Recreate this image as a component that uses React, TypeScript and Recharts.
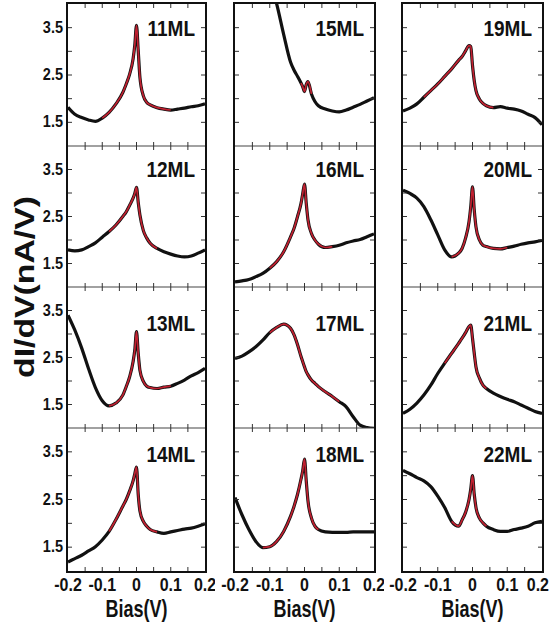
import React from 'react';
import { LineChart, Line, XAxis, YAxis } from 'recharts';

// ---------- data ----------
const BIAS = [-0.2, -0.18, -0.16, -0.14, -0.12, -0.1, -0.08, -0.06, -0.04, -0.03, -0.02, -0.01, -0.005, 0, 0.005, 0.01, 0.02, 0.03, 0.04, 0.06, 0.08, 0.1, 0.12, 0.14, 0.16, 0.18, 0.2];

const ML11 = [1.82, 1.67, 1.6, 1.55, 1.52, 1.59, 1.71, 1.89, 2.13, 2.31, 2.52, 2.84, 3.13, 3.55, 3.02, 2.45, 2.06, 1.92, 1.87, 1.81, 1.78, 1.76, 1.78, 1.8, 1.83, 1.85, 1.89];
const ML12 = [1.79, 1.77, 1.79, 1.86, 1.94, 2.06, 2.18, 2.32, 2.5, 2.6, 2.74, 2.89, 2.99, 3.12, 2.8, 2.53, 2.2, 2.04, 1.93, 1.82, 1.75, 1.7, 1.66, 1.64, 1.66, 1.72, 1.79];
const ML13 = [3.4, 3.08, 2.7, 2.26, 1.86, 1.58, 1.47, 1.53, 1.7, 1.88, 2.09, 2.41, 2.66, 3.05, 2.59, 2.23, 1.99, 1.89, 1.86, 1.84, 1.87, 1.89, 1.95, 2.02, 2.11, 2.18, 2.27];
const ML14 = [1.19, 1.26, 1.33, 1.42, 1.51, 1.65, 1.83, 2.08, 2.36, 2.5, 2.68, 2.89, 3.04, 3.18, 2.61, 2.26, 2.04, 1.94, 1.87, 1.82, 1.79, 1.82, 1.85, 1.88, 1.9, 1.94, 1.99];
const ML15 = [7.6, 7.0, 6.3, 5.7, 5.1, 4.5, 4.0, 3.36, 2.77, 2.6, 2.47, 2.33, 2.25, 2.15, 2.3, 2.36, 2.1, 1.94, 1.85, 1.78, 1.74, 1.72, 1.76, 1.82, 1.88, 1.95, 2.02];
const ML16 = [1.11, 1.13, 1.16, 1.22, 1.29, 1.4, 1.54, 1.75, 2.07, 2.25, 2.5, 2.78, 2.99, 3.19, 2.78, 2.43, 2.14, 2.0, 1.91, 1.84, 1.86, 1.89, 1.94, 1.98, 2.01, 2.07, 2.13];
const ML17 = [2.48, 2.53, 2.62, 2.73, 2.87, 3.03, 3.14, 3.21, 3.12, 2.98, 2.77, 2.52, 2.41, 2.3, 2.2, 2.13, 2.02, 1.95, 1.88, 1.77, 1.67, 1.56, 1.45, 1.24, 1.06, 1.01, 0.99];
const ML18 = [2.54, 2.18, 1.87, 1.62, 1.49, 1.51, 1.62, 1.83, 2.15, 2.36, 2.61, 2.93, 3.11, 3.35, 2.89, 2.47, 2.11, 1.94, 1.87, 1.82, 1.81, 1.81, 1.81, 1.82, 1.82, 1.82, 1.82];
const ML19 = [1.74, 1.8, 1.89, 2.03, 2.17, 2.31, 2.47, 2.63, 2.81, 2.89, 3.01, 3.12, 3.1, 2.7, 2.38, 2.17, 1.99, 1.9, 1.85, 1.81, 1.83, 1.8, 1.78, 1.74, 1.67, 1.6, 1.45];
const ML20 = [3.06, 2.99, 2.89, 2.71, 2.43, 2.11, 1.79, 1.64, 1.72, 1.82, 2.04, 2.39, 2.71, 3.13, 2.64, 2.28, 2.0, 1.89, 1.86, 1.82, 1.81, 1.84, 1.87, 1.91, 1.94, 1.96, 1.99];
const ML21 = [1.31, 1.4, 1.53, 1.7, 1.91, 2.16, 2.38, 2.59, 2.8, 2.91, 3.03, 3.16, 3.19, 2.91, 2.59, 2.3, 2.06, 1.91, 1.84, 1.74, 1.67, 1.61, 1.56, 1.49, 1.42, 1.35, 1.31];
const ML22 = [3.11, 3.04, 2.96, 2.89, 2.77, 2.57, 2.33, 2.04, 1.94, 2.07, 2.23, 2.5, 2.72, 3.0, 2.61, 2.33, 2.11, 2.01, 1.94, 1.87, 1.83, 1.83, 1.87, 1.9, 1.94, 2.01, 2.04];

// column-major order: column 0 = 11..14, column 1 = 15..18, column 2 = 19..22
const PANEL_NAMES = ['11ML', '12ML', '13ML', '14ML', '15ML', '16ML', '17ML', '18ML', '19ML', '20ML', '21ML', '22ML'];
const PANEL_VALUES = [ML11, ML12, ML13, ML14, ML15, ML16, ML17, ML18, ML19, ML20, ML21, ML22];
const FIT_RANGES = [
  [-0.1, 0.1], [-0.08, 0.06], [-0.08, 0.1], [-0.08, 0.06],
  [-0.01, 0.02], [-0.1, 0.08], [-0.1, 0.1], [-0.12, 0.04],
  [-0.14, 0.06], [-0.06, 0.1], [-0.08, 0.04], [-0.06, 0.04],
];

const X_TICKS = [-0.2, -0.15, -0.1, -0.05, 0, 0.05, 0.1, 0.15, 0.2];
const X_LABELS = [-0.2, -0.1, 0, 0.1, 0.2];
const Y_TICKS = [1, 1.5, 2, 2.5, 3, 3.5, 4];
const Y_LABELS = [1.5, 2.5, 3.5];
const X_TITLE = 'Bias(V)';
const Y_TITLE = 'dI/dV(nA/V)';

// ---------- layout ----------
const FONT = "'Liberation Sans', Arial, Helvetica, sans-serif";
const COL_LEFT = [68, 235, 403];
const COL_RIGHT = [205, 374, 542];
const ROW_TOP = [4, 146, 287, 428];
const ROW_BOTTOM = [146, 287, 428, 571];
const LABEL_BASE = [36, 177, 331, 462];
// axis strips are 1px (a 0px axis is not drawn), so the margins leave room for them
const M = { top: 10, right: 10, bottom: 59, left: 69 };

const near = (a: number, b: number) => Math.abs(a - b) < 1e-9;
const fmtX = (v: number) => (near(v, 0) ? '0' : v.toFixed(1));

function makeXTick(ph: number, showLabels: boolean, lastCol: boolean) {
  return (props: any) => {
    const { x, y, payload } = props;
    const v = payload.value as number;
    const interior = Math.abs(v) < 0.19;
    const lbl = showLabels && X_LABELS.some((t) => near(t, v));
    // the very last label sits at the page edge: right-align it so it stays on the page
    const edge = lastCol && near(v, 0.2);
    return (
      <g>
        {interior && <line x1={x} y1={y} x2={x} y2={y - 4} stroke="#333" strokeWidth={1} />}
        {interior && <line x1={x} y1={y - ph} x2={x} y2={y - ph + 4} stroke="#333" strokeWidth={1} />}
        {lbl && (
          <text
            transform={`translate(${edge ? x + 7 : x},${y + 20}) scale(1,1.12)`}
            textAnchor={edge ? 'end' : 'middle'}
            fontSize={16}
            fontWeight="bold"
            fontFamily={FONT}
            fill="#111"
          >
            {fmtX(v)}
          </text>
        )}
      </g>
    );
  };
}

function makeYTick(pw: number, showLabels: boolean) {
  return (props: any) => {
    const { x, y, payload } = props;
    const v = payload.value as number;
    const interior = v > 1.01 && v < 3.99;
    const lbl = showLabels && Y_LABELS.some((t) => near(t, v));
    return (
      <g>
        {interior && <line x1={x} y1={y} x2={x + 4} y2={y} stroke="#333" strokeWidth={1} />}
        {interior && <line x1={x + pw} y1={y} x2={x + pw - 4} y2={y} stroke="#333" strokeWidth={1} />}
        {lbl && (
          <text
            transform={`translate(${x - 5},${y + 5}) scale(1,1.1)`}
            textAnchor="end"
            fontSize={14.5}
            fontWeight="bold"
            fontFamily={FONT}
            fill="#111"
          >
            {v.toFixed(1)}
          </text>
        )}
      </g>
    );
  };
}

function Panel({ col, row }: { col: number; row: number }) {
  const idx = col * 4 + row;
  const pw = COL_RIGHT[col] - COL_LEFT[col];
  const ph = ROW_BOTTOM[row] - ROW_TOP[row];
  const values = PANEL_VALUES[idx];
  const [f0, f1] = FIT_RANGES[idx];
  const data = BIAS.map((b, i) => ({
    b,
    v: values[i],
    fit: b >= f0 - 1e-9 && b <= f1 + 1e-9 ? values[i] : null,
  }));
  return (
    <div style={{ position: 'absolute', left: COL_LEFT[col] - M.left - 1, top: ROW_TOP[row] - M.top }}>
      <LineChart width={pw + M.left + M.right + 1} height={ph + M.top + M.bottom + 1} data={data} margin={M}>
        <XAxis
          dataKey="b"
          type="number"
          domain={[-0.2, 0.2]}
          ticks={X_TICKS}
          interval={0}
          allowDataOverflow
          height={1}
          tickSize={0}
          tickMargin={0}
          tickLine={false}
          axisLine={row < 3 ? { stroke: '#444', strokeWidth: 1.2 } : false}
          tick={makeXTick(ph, row === 3, col === 2)}
        />
        <YAxis
          type="number"
          domain={[1, 4]}
          ticks={Y_TICKS}
          interval={0}
          allowDataOverflow
          width={1}
          tickSize={0}
          tickMargin={0}
          tickLine={false}
          axisLine={false}
          tick={makeYTick(pw, col === 0)}
        />
        <Line
          dataKey="v"
          type="monotone"
          stroke="#111"
          strokeWidth={3.2}
          dot={false}
          isAnimationActive={false}
        />
        <Line
          dataKey="fit"
          type="monotone"
          stroke="#c02030"
          strokeWidth={1.7}
          dot={false}
          connectNulls={false}
          isAnimationActive={false}
        />
      </LineChart>
    </div>
  );
}

export default function App() {
  const panels = [];
  for (let c = 0; c < 3; c++) for (let r = 0; r < 4; r++) panels.push(<Panel key={`${c}-${r}`} col={c} row={r} />);
  return (
    <div style={{ position: 'absolute', left: 0, top: 0, width: 550, height: 626, background: '#fff', overflow: 'hidden' }}>
      {panels}
      {COL_LEFT.map((l, c) => (
        <div
          key={`frame-${c}`}
          style={{
            position: 'absolute',
            left: l - 2,
            top: ROW_TOP[0] - 2,
            width: COL_RIGHT[c] - l + 4,
            height: ROW_BOTTOM[3] - ROW_TOP[0] + 4,
            border: '2px solid #111',
            boxSizing: 'border-box',
            pointerEvents: 'none',
          }}
        />
      ))}
      <svg width={550} height={626} style={{ position: 'absolute', left: 0, top: 0, pointerEvents: 'none' }}>
        {PANEL_NAMES.map((name, i) => {
          const c = Math.floor(i / 4);
          const r = i % 4;
          return (
            <text
              key={name}
              transform={`translate(${COL_RIGHT[c] - 10},${LABEL_BASE[r]}) scale(1,1.2)`}
              textAnchor="end"
              fontSize={19}
              fontWeight="bold"
              fontFamily={FONT}
              fill="#111"
            >
              {name}
            </text>
          );
        })}
        {COL_LEFT.map((l, c) => (
          <text
            key={`xt-${c}`}
            transform={`translate(${(l + COL_RIGHT[c]) / 2},617) scale(1,1.35)`}
            textAnchor="middle"
            fontSize={18}
            fontWeight="bold"
            fontFamily={FONT}
            fill="#111"
          >
            {X_TITLE}
          </text>
        ))}
        <text
          transform="translate(34,287) rotate(-90) scale(1.25,1)"
          textAnchor="middle"
          fontSize={27}
          fontWeight="bold"
          fontFamily={FONT}
          fill="#111"
        >
          {Y_TITLE}
        </text>
      </svg>
    </div>
  );
}
